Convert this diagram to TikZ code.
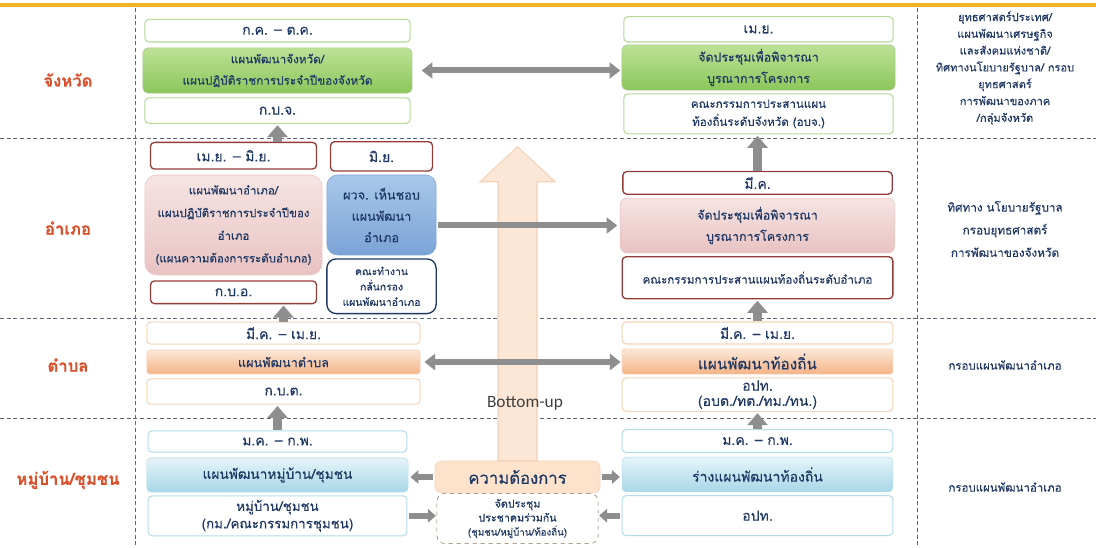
\documentclass[tikz,border=0pt]{standalone}
\usepackage{fontspec}
\newfontfamily\thai[Script=Thai, FakeBold=0.35]{Loma}
\newfontfamily\latinsans{Carlito}
\usetikzlibrary{arrows.meta, positioning}

\definecolor{navy}{HTML}{1F3864}
\definecolor{levelred}{HTML}{D9502B}
\definecolor{gold}{HTML}{F0B323}
\definecolor{divcol}{HTML}{5A6478}
\definecolor{arrowgray}{HTML}{8E8E8E}
\definecolor{provline}{HTML}{B5D99A}
\definecolor{provtop}{HTML}{BCE296}
\definecolor{provbot}{HTML}{8CC65B}
\definecolor{distline}{HTML}{943C3A}
\definecolor{disttop}{HTML}{F6E4E3}
\definecolor{distbot}{HTML}{E8C3C2}
\definecolor{oktop}{HTML}{A9C8EA}
\definecolor{okbot}{HTML}{7AA3D6}
\definecolor{tamline}{HTML}{F5D3B8}
\definecolor{tamtop}{HTML}{FCE7D8}
\definecolor{tambot}{HTML}{F4B486}
\definecolor{villine}{HTML}{B3DDEA}
\definecolor{viltop}{HTML}{E6F4F9}
\definecolor{vilbot}{HTML}{A8D7E8}
\definecolor{peach}{HTML}{FCE6D5}
\definecolor{peachline}{HTML}{F4D2B8}
\definecolor{forumline}{HTML}{8C6D46}

\begin{document}
\begin{tikzpicture}[
        x = 0.75pt, y = -0.75pt,
        every node/.style = {font = \thai\fontsize{8.5}{15}\selectfont, text = navy, align = center, inner sep = 0pt},
        tag/.style = {draw, fill = white, rounded corners = 3pt, line width = 0.8pt, font = \thai\fontsize{10.5}{12}\selectfont},
        ptag/.style = {tag, draw = provline},
        pmain/.style = {draw = provbot!80!black!60, top color = provtop, bottom color = provbot, rounded corners = 4pt},
        dtag/.style = {tag, draw = distline, line width = 1pt},
        dmain/.style = {draw = distbot, top color = disttop, bottom color = distbot, rounded corners = 5pt},
        dok/.style = {draw = okbot, top color = oktop, bottom color = okbot, rounded corners = 8pt, font = \thai\fontsize{9.5}{16}\selectfont},
        dwork/.style = {tag, draw = navy, line width = 1pt, rounded corners = 7pt, font = \thai\fontsize{7.8}{11.5}\selectfont},
        ttag/.style = {tag, draw = tamline},
        tmain/.style = {draw = tamline, top color = tamtop, bottom color = tambot, rounded corners = 2pt},
        vtag/.style = {tag, draw = villine},
        vmain/.style = {draw = villine, top color = viltop, bottom color = vilbot, rounded corners = 3pt},
        need/.style = {draw = peachline, fill = peach!90!orange!80, rounded corners = 5pt, font = \thai\fontsize{12.5}{14}\selectfont},
        forum/.style = {draw = forumline, dashed, fill = white, rounded corners = 6pt, font = \thai\fontsize{8}{10.5}\selectfont},
        level/.style = {text = levelred, font = \thai\bfseries\fontsize{12.5}{14}\selectfont},
        frame/.style = {font = \thai\fontsize{8.3}{12.6}\selectfont},
        divider/.style = {draw = divcol, dash pattern = on 3pt off 2pt, line width = 0.6pt},
        fat/.style = {draw = arrowgray, line width = 4.5pt, -{Triangle[length = 8pt, width = 12pt]}},
        fatboth/.style = {fat, {Triangle[length = 8pt, width = 12pt]}-{Triangle[length = 8pt, width = 12pt]}},
        upfat/.style = {draw = arrowgray, line width = 7pt, -{Triangle[length = 9pt, width = 15pt]}},
        stub/.style = {draw = arrowgray, line width = 4.5pt, -{Triangle[length = 6pt, width = 10pt]}}
    ]

    \useasboundingbox (0,0) rectangle (1096,548);

    \draw[gold, line width = 3pt] (0,5) -- (1096,5);
    \draw[divider] (0,138) -- (1096,138);
    \draw[divider] (0,318) -- (1096,318);
    \draw[divider] (0,418) -- (1096,418);
    \draw[divider] (135,8) -- (135,548);
    \draw[divider] (917,8) -- (917,548);

    \node[level] (l_prov) at (68,80) {จังหวัด};
    \node[level] (l_dist) at (68,228) {อำเภอ};
    \node[level] (l_tam) at (68,365) {ตำบล};
    \node[level] (l_vil) at (68,480) {หมู่บ้าน/ชุมชน};

    \node[frame] (f_prov) at (1005,68) {ยุทธศาสตร์ประเทศ/\\แผนพัฒนาเศรษฐกิจ\\และสังคมแห่งชาติ/\\ทิศทางนโยบายรัฐบาล/ กรอบ\\ยุทธศาสตร์\\การพัฒนาของภาค\\/กลุ่มจังหวัด};
    \node[frame, font = \thai\fontsize{8.8}{17}\selectfont] (f_dist) at (1005,229) {ทิศทาง นโยบายรัฐบาล\\กรอบยุทธศาสตร์\\การพัฒนาของจังหวัด};
    \node[frame, font = \thai\fontsize{8.6}{12}\selectfont] (f_tam) at (1005,365) {กรอบแผนพัฒนาอำเภอ};
    \node[frame, font = \thai\fontsize{8.6}{12}\selectfont] (f_vil) at (1005,487) {กรอบแผนพัฒนาอำเภอ};

    \node[pmain, minimum width = 202pt, minimum height = 34pt, font = \thai\fontsize{8.8}{16}\selectfont] (p_plan) at (277.5,70.5) {แผนพัฒนาจังหวัด/\\แผนปฏิบัติราชการประจำปีของจังหวัด};
    \node[ptag, minimum width = 199pt, minimum height = 17pt, above = 3.75pt of p_plan] (p_time) {ก.ค. – ต.ค.};
    \node[ptag, minimum width = 199pt, minimum height = 19pt, below = 3pt of p_plan] (p_comm) {ก.บ.จ.};
    \node[pmain, minimum width = 205pt, minimum height = 34pt, font = \thai\fontsize{9.3}{16}\selectfont] (p_meet) at (758.5,67.5) {จัดประชุมเพื่อพิจารณา\\บูรณาการโครงการ};
    \node[ptag, minimum width = 202pt, minimum height = 19pt, above = 1.5pt of p_meet] (p_mtime) {เม.ย.};
    \node[ptag, minimum width = 202pt, minimum height = 30pt, below = 2.25pt of p_meet, font = \thai\fontsize{8.7}{13.5}\selectfont] (p_mcomm) {คณะกรรมการประสานแผน\\ท้องถิ่นระดับจังหวัด (อบจ.)};

    \node[dmain, rounded corners = 9pt, minimum width = 133pt, minimum height = 75pt, font = \thai\fontsize{8.6}{17}\selectfont] (d_plan) at (233.5,225) {แผนพัฒนาอำเภอ/\\แผนปฏิบัติราชการประจำปีของ\\อำเภอ\\(แผนความต้องการระดับอำเภอ)};
    \node[dtag, minimum width = 124.5pt, minimum height = 20pt, above = 3.75pt of d_plan] (d_time) {เม.ย. – มิ.ย.};
    \node[dtag, minimum width = 124.5pt, minimum height = 17pt, below = 3.75pt of d_plan] (d_comm) {ก.บ.อ.};
    \node[dok, minimum width = 82pt, minimum height = 60pt] (d_ok) at (381.5,215) {ผวจ. เห็นชอบ\\แผนพัฒนา\\อำเภอ};
    \node[dtag, minimum width = 76.5pt, minimum height = 22pt, above = 2.25pt of d_ok] (d_oktime) {มิ.ย.};
    \node[dwork, minimum width = 82pt, minimum height = 41pt, below = 2.25pt of d_ok] (d_work) {คณะทำงาน\\กลั่นกรอง\\แผนพัฒนาอำเภอ};
    \node[dmain, minimum width = 206pt, minimum height = 41pt, font = \thai\fontsize{9.3}{16}\selectfont] (d_meet) at (757.5,225.5) {จัดประชุมเพื่อพิจารณา\\บูรณาการโครงการ};
    \node[dtag, minimum width = 202pt, minimum height = 17pt, above = 2.25pt of d_meet] (d_mtime) {มี.ค.};
    \node[dtag, minimum width = 203pt, minimum height = 31.5pt, below = 2.25pt of d_meet, font = \thai\fontsize{8.7}{12}\selectfont] (d_mcomm) {คณะกรรมการประสานแผนท้องถิ่นระดับอำเภอ};

    \node[tmain, minimum width = 205pt, minimum height = 18pt, font = \thai\fontsize{9.5}{12}\selectfont] (t_plan) at (283.5,362) {แผนพัฒนาตำบล};
    \node[ttag, minimum width = 205pt, minimum height = 16.5pt, above = 3.75pt of t_plan] (t_time) {มี.ค. – เม.ย.};
    \node[ttag, minimum width = 205pt, minimum height = 19pt, below = 3pt of t_plan] (t_comm) {ก.บ.ต.};
    \node[tmain, minimum width = 203pt, minimum height = 19pt, font = \thai\fontsize{11.5}{12}\selectfont] (t_local) at (757.5,361.5) {แผนพัฒนาท้องถิ่น};
    \node[ttag, minimum width = 203pt, minimum height = 16.5pt, above = 3pt of t_local] (t_ltime) {มี.ค. – เม.ย.};
    \node[ttag, minimum width = 203pt, minimum height = 25pt, below = 2.25pt of t_local, font = \thai\fontsize{10.5}{11.5}\selectfont] (t_lorg) {อปท.\\(อบต./ทต./ทม./ทน.)};

    \node[vmain, minimum width = 196pt, minimum height = 25.5pt, font = \thai\fontsize{10.3}{12}\selectfont] (v_plan) at (277.5,475) {แผนพัฒนาหมู่บ้าน/ชุมชน};
    \node[vtag, minimum width = 194pt, minimum height = 16pt, above = 3.75pt of v_plan] (v_time) {ม.ค. – ก.พ.};
    \node[vtag, minimum width = 194pt, minimum height = 30pt, below = 2.25pt of v_plan, font = \thai\fontsize{10}{13}\selectfont] (v_comm) {หมู่บ้าน/ชุมชน\\(กม./คณะกรรมการชุมชน)};
    \node[need, minimum width = 124pt, minimum height = 24pt] (v_need) at (517.5,477) {ความต้องการ};
    \node[forum, minimum width = 121pt, minimum height = 37.5pt, below = 0pt of v_need] (v_forum) {จัดประชุม\\ประชาคมร่วมกัน\\{\fontsize{7.3}{9}\selectfont(ชุมชน/หมู่บ้าน/ท้องถิ่น)}};
    \node[vmain, minimum width = 203pt, minimum height = 26pt, font = \thai\fontsize{10.5}{12}\selectfont] (v_draft) at (757.5,474.5) {ร่างแผนพัฒนาท้องถิ่น};
    \node[vtag, minimum width = 203pt, minimum height = 17pt, above = 3pt of v_draft] (v_dtime) {ม.ค. – ก.พ.};
    \node[vtag, minimum width = 203pt, minimum height = 30pt, below = 2.25pt of v_draft] (v_dorg) {อปท.};

    \filldraw[fill = peach, draw = peachline, line width = 0.8pt] (v_need.north) ++(-19.5,0) -- ++(0,-279) -- ++(-18,0) -- ++(37.5,-35) -- ++(37.5,35) -- ++(-18,0) -- ++(0,279) -- cycle;
    \node[font = \latinsans\fontsize{13}{15}\selectfont, text = black!75] (bu) at (525,403) {Bottom-up};

    \draw[fatboth, shorten <= 7pt, shorten >= 1pt] (p_plan.east) -- (p_plan.east -| p_meet.west);
    \draw[fat, shorten <= 1pt, shorten >= 2pt] (d_ok.east |- d_meet.west) -- (d_meet.west);
    \draw[fatboth, shorten <= 3pt, shorten >= 1pt] (t_plan.east) -- (t_plan.east -| t_local.west);

    \draw[stub, shorten <= 1pt, shorten >= 1.5pt] (v_need.west) -- (v_need.west -| v_plan.east);
    \draw[stub, shorten <= 1pt, shorten >= 1.5pt] (v_need.east) -- (v_need.east -| v_draft.west);
    \draw[stub, shorten <= 1.5pt, shorten >= 0.5pt] (v_comm.east) -- (v_comm.east -| v_forum.west);
    \draw[stub, shorten <= 1.5pt, shorten >= 0.5pt] (v_dorg.west) -- (v_dorg.west -| v_forum.east);

    \draw[upfat, shorten >= 1pt] (p_comm.south |- d_time.north) -- (p_comm.south);
    \draw[upfat, shorten >= 1pt] (t_time.north) -- (t_time.north |- d_comm.south);
    \draw[upfat, shorten >= 1pt] (v_time.north) -- (v_time.north |- t_comm.south);
    \draw[upfat, shorten >= 1pt] (d_mtime.north) -- (d_mtime.north |- p_mcomm.south);
    \draw[upfat, shorten >= 1pt] (t_ltime.north) -- (t_ltime.north |- d_mcomm.south);
    \draw[upfat, shorten >= 1pt] (v_dtime.north) -- (v_dtime.north |- t_lorg.south);

\end{tikzpicture}
\end{document}
